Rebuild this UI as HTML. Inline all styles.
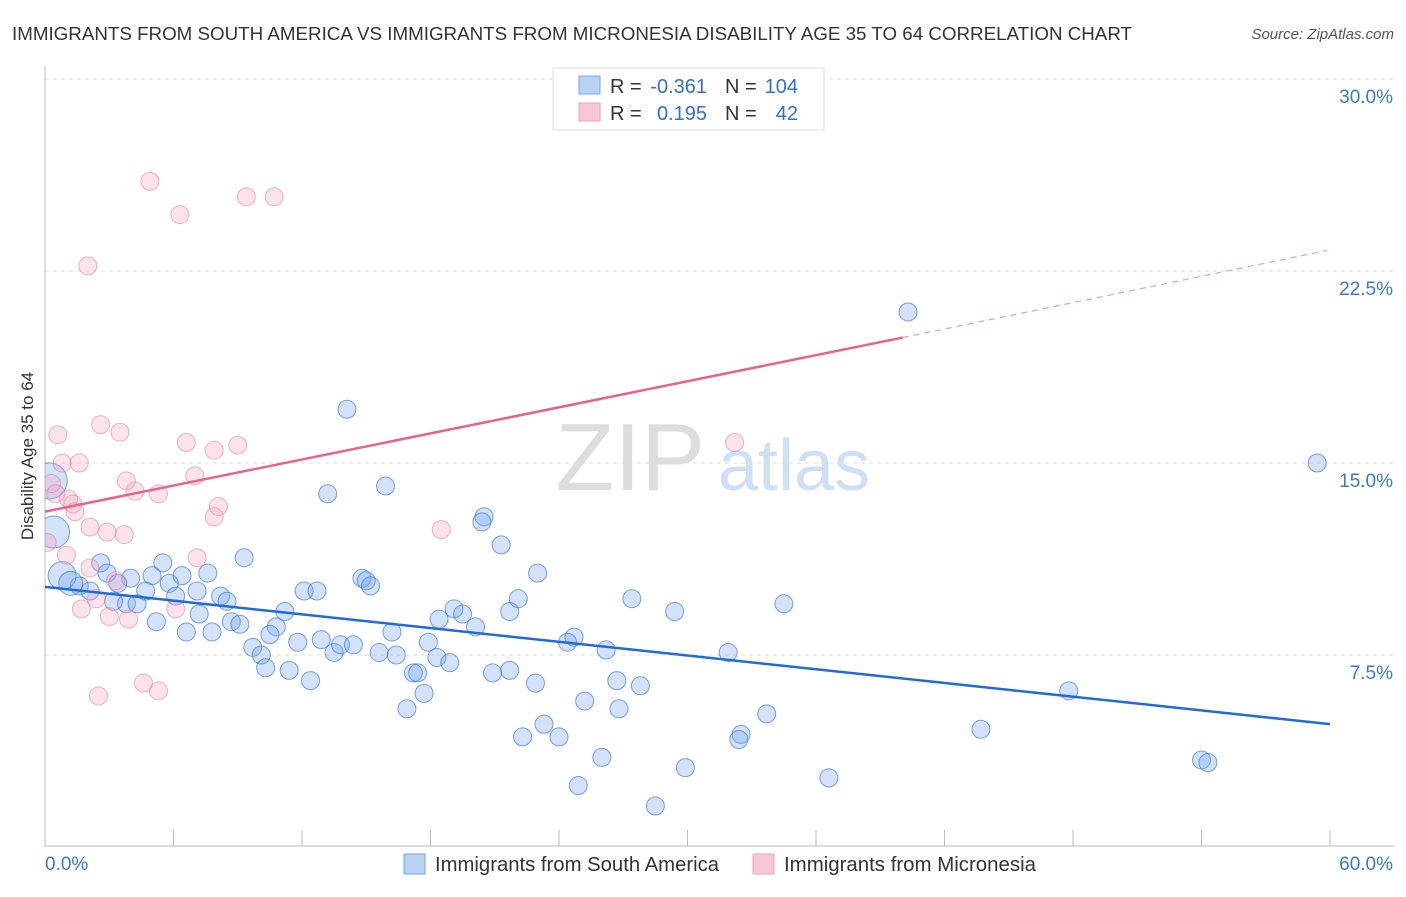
<!DOCTYPE html>
<html><head><meta charset="utf-8">
<style>
body{margin:0;background:#fff;font-family:"Liberation Sans",sans-serif;}
svg text{font-family:"Liberation Sans",sans-serif;}
</style></head>
<body>
<svg id="chart" width="1406" height="892" xmlns="http://www.w3.org/2000/svg">
<defs><clipPath id="plotclip"><rect x="45" y="60" width="1360" height="787"/></clipPath></defs>
<text x="12" y="40" font-size="18" fill="#333" textLength="1120" lengthAdjust="spacingAndGlyphs">IMMIGRANTS FROM SOUTH AMERICA VS IMMIGRANTS FROM MICRONESIA DISABILITY AGE 35 TO 64 CORRELATION CHART</text>
<text x="1394" y="39" font-size="15" fill="#555" font-style="italic" text-anchor="end">Source: ZipAtlas.com</text>
<g id="grid"></g>
<text x="705" y="490" font-size="96" fill="#ddd" font-family="Liberation Serif" text-anchor="end">ZIP</text>
<text x="718" y="490" font-size="72" fill="#cfe0f5">atlas</text>
<g id="axes"></g>
<g clip-path="url(#plotclip)">
<g id="blue"></g>
<g id="pink"></g>
</g>
<g id="lines"></g>
<text transform="translate(33,456) rotate(-90)" font-size="17" fill="#333" text-anchor="middle">Disability Age 35 to 64</text>
<g>
<rect x="553" y="68" width="271" height="62" fill="#fff" stroke="#ddd"/>
<rect x="579" y="76" width="21" height="18" fill="#b8d2f3" stroke="#7aa6e6"/>
<rect x="579" y="103" width="21" height="18" fill="#f9c8d6" stroke="#ef9fb8"/>
<text x="610" y="93" font-size="20" fill="#333">R =</text>
<text x="707" y="93" font-size="20" fill="#2f6fd6" text-anchor="end">-0.361</text>
<text x="725" y="93" font-size="20" fill="#333">N =</text>
<text x="798" y="93" font-size="20" fill="#2f6fd6" text-anchor="end">104</text>
<text x="610" y="120" font-size="20" fill="#333">R =</text>
<text x="707" y="120" font-size="20" fill="#2f6fd6" text-anchor="end">0.195</text>
<text x="725" y="120" font-size="20" fill="#333">N =</text>
<text x="798" y="120" font-size="20" fill="#2f6fd6" text-anchor="end">42</text>
</g>
<g>
<rect x="404" y="854" width="21" height="20" fill="#b8d2f3" stroke="#7aa6e6"/>
<text x="435" y="871" font-size="20" fill="#333" textLength="284" lengthAdjust="spacingAndGlyphs">Immigrants from South America</text>
<rect x="753" y="854" width="21" height="20" fill="#f9c8d6" stroke="#ef9fb8"/>
<text x="784" y="871" font-size="20" fill="#333" textLength="252" lengthAdjust="spacingAndGlyphs">Immigrants from Micronesia</text>
</g>
</svg>
<script>
const yTicks=[7.5,15,22.5,30];
const yTickLabels=["7.5%","15.0%","22.5%","30.0%"];
const xTicks=[0,6,12,18,24,30,36,42,48,54,60];
const blueX=[40.3,59.4,14.1,13.2,15.9,20.5,20.4,21.3,23.0,9.3,5.5,2.6,2.9,4.0,5.0,6.4,7.6,5.8,4.7,3.4,1.6,2.1,6.1,7.1,8.2,8.5,3.2,3.8,4.3,5.2,6.6,7.2,7.8,8.7,9.1,11.2,12.1,12.7,14.8,15.0,15.2,10.8,10.5,9.7,10.1,10.3,11.4,11.8,12.9,12.4,13.5,13.8,14.4,15.6,16.4,16.2,17.2,17.4,17.7,16.9,17.9,18.3,18.9,18.4,19.1,19.5,20.1,21.7,22.1,20.9,21.7,22.9,23.3,22.3,24.0,24.4,24.7,25.2,26.2,26.7,26.8,27.8,27.4,29.4,26.0,24.9,29.9,28.5,31.9,34.5,33.7,32.5,32.4,36.6,47.8,43.7,54.0,54.3,0.2,0.4,0.8,1.2];
const blueY=[20.9,15.0,17.1,13.8,14.1,12.9,12.7,11.8,10.7,11.3,11.1,11.1,10.7,10.5,10.6,10.6,10.7,10.3,10.0,10.3,10.2,10.0,9.8,10.0,9.8,9.6,9.6,9.5,9.5,8.8,8.4,9.1,8.4,8.8,8.7,9.2,10.0,10.0,10.5,10.4,10.2,8.6,8.3,7.8,7.5,7.0,6.9,8.0,8.1,6.5,7.6,7.9,7.9,7.6,7.5,8.4,6.8,6.8,6.0,5.4,8.0,7.4,7.2,8.9,9.3,9.1,8.6,9.2,9.7,6.8,6.9,6.4,4.8,4.3,4.3,8.0,8.2,5.7,7.7,6.5,5.4,6.3,9.7,9.2,3.5,2.4,3.1,1.6,7.6,9.5,5.2,4.4,4.2,2.7,6.1,4.6,3.4,3.3,14.3,12.3,10.6,10.3];
const blueSize=[9,9,9,9,9,9,9,9,9,9,9,9,9,9,9,9,9,9,9,9,9,9,9,9,9,9,9,9,9,9,9,9,9,9,9,9,9,9,9,9,9,9,9,9,9,9,9,9,9,9,9,9,9,9,9,9,9,9,9,9,9,9,9,9,9,9,9,9,9,9,9,9,9,9,9,9,9,9,9,9,9,9,9,9,9,9,9,9,9,9,9,9,9,9,9,9,9,9,18,16,14,12];
const pinkX=[4.9,6.3,9.4,10.7,2.0,0.6,2.6,3.5,6.6,7.9,9.0,0.8,1.6,0.3,0.5,1.1,1.3,1.4,3.8,4.2,5.3,7.0,8.1,7.9,2.1,2.9,3.7,0.1,1.0,2.1,7.1,3.3,2.4,1.7,3.0,3.9,6.1,2.5,4.6,5.3,18.5,32.2];
const pinkY=[26.0,24.7,25.4,25.4,22.7,16.1,16.5,16.2,15.8,15.5,15.7,15.0,15.0,14.2,13.8,13.6,13.4,13.1,14.3,13.9,13.8,14.5,13.3,12.9,12.5,12.3,12.2,11.9,11.4,10.9,11.3,10.4,9.7,9.3,9.0,8.9,9.3,5.9,6.4,6.1,12.4,15.8];
const blueTrend=[10.16,4.8];
const pinkTrend=[13.1,19.9,23.3];
const pinkSolidEnd=40.05, pinkDashEnd=59.85;

const X0=45,X1=1330,YB=847,PPY=25.6;
const xs=v=>X0+v*(X1-X0)/60;
const ys=v=>YB-v*PPY;
const NS="http://www.w3.org/2000/svg";
function mk(tag,attrs,parent){const e=document.createElementNS(NS,tag);for(const k in attrs)e.setAttribute(k,attrs[k]);parent.appendChild(e);return e;}
const grid=document.getElementById('grid'),axes=document.getElementById('axes');
yTicks.forEach((t,i)=>{
 const l=mk('line',{x1:45,x2:1394,y1:ys(t),y2:ys(t),stroke:'#ddd','stroke-dasharray':'4,4'},grid);
 
 
 const tx=mk('text',{x:1393,y:ys(t)+24,'font-size':19,fill:'#3a78d8','text-anchor':'end'},axes);
 tx.textContent=yTickLabels[i];
 
 
});
const ya=mk('line',{x1:45,x2:45,y1:66,y2:847,stroke:'#bbb'},axes);


const xa=mk('line',{x1:45,x2:1394,y1:846,y2:846,stroke:'#bbb'},axes);


xTicks.forEach(t=>{
 const l=mk('line',{x1:xs(t),x2:xs(t),y1:830,y2:846,stroke:'#bbb'},axes);
 
 
});
const xl0=mk('text',{x:45,y:870,'font-size':19,fill:'#3a78d8'},axes);xl0.textContent='0.0%';


const xl1=mk('text',{x:1393,y:870,'font-size':19,fill:'#3a78d8','text-anchor':'end'},axes);xl1.textContent='60.0%';



const bg=document.getElementById('blue');
blueX.forEach((v,i)=>{
 const c=mk('circle',{cx:xs(v),cy:ys(blueY[i]),r:blueSize[i],fill:'rgba(110,160,235,0.3)',stroke:'rgba(50,115,215,0.65)','stroke-width':1},bg);
 
 
});
const pg=document.getElementById('pink');
pinkX.forEach((v,i)=>{
 const c=mk('circle',{cx:xs(v),cy:ys(pinkY[i]),r:9,fill:'rgba(245,160,190,0.3)',stroke:'rgba(230,120,155,0.55)','stroke-width':1},pg);
 
 
});
const lg=document.getElementById('lines');
const bl=mk('line',{x1:xs(0),y1:ys(blueTrend[0]),x2:xs(60),y2:ys(blueTrend[1]),stroke:'#1f6bd8','stroke-width':2.5},lg);


const pl=mk('line',{x1:xs(0),y1:ys(pinkTrend[0]),x2:xs(pinkSolidEnd),y2:ys(pinkTrend[1]),stroke:'#e8628e','stroke-width':2.5},lg);


const pd=mk('line',{x1:xs(pinkSolidEnd),y1:ys(pinkTrend[1]),x2:xs(pinkDashEnd),y2:ys(pinkTrend[2]),stroke:'#ef9ab5','stroke-width':1.2,'stroke-dasharray':'6,5'},lg);


</script>
</body></html>
